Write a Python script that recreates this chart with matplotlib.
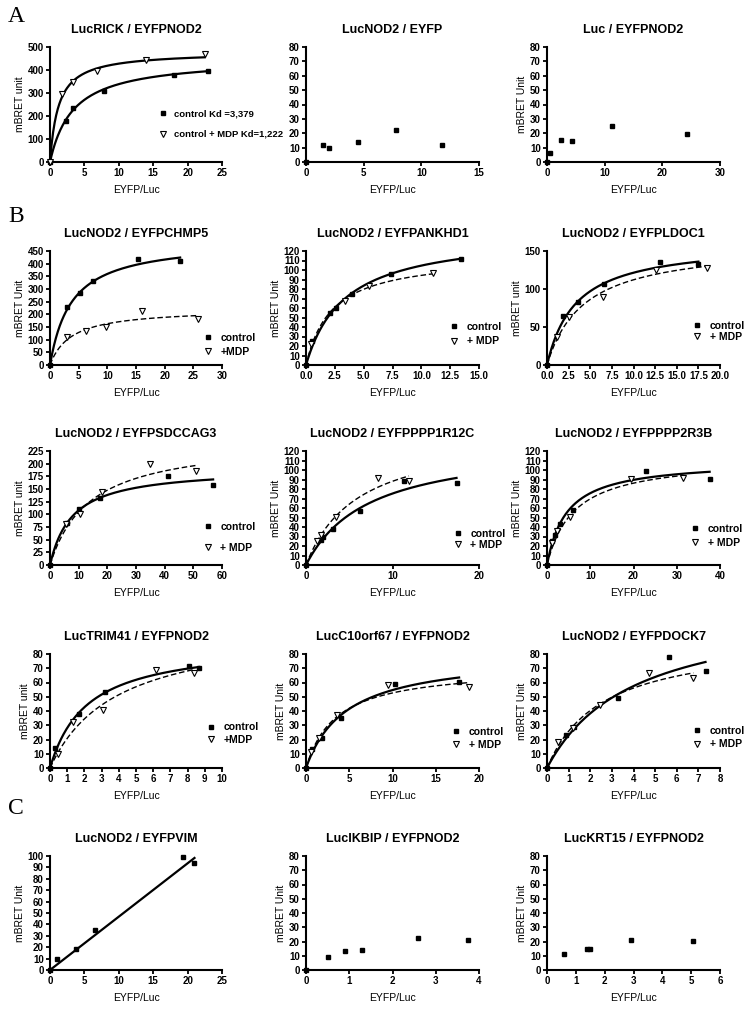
import numpy as np
import matplotlib.pyplot as plt
from matplotlib.lines import Line2D

plt.rcParams['font.family'] = ['Liberation Sans', 'DejaVu Sans']
plt.rcParams['font.weight'] = 'bold'

# ---------------- panel A ----------------
rick_ctrl_x = [0, 2.3, 3.4, 7.8, 18.0, 23.0]
rick_ctrl_y = [0, 180, 235, 310, 378, 395]
rick_mdp_x = [0, 1.7, 3.4, 6.8, 14.0, 22.5]
rick_mdp_y = [0, 295, 348, 395, 442, 468]
rick_fit = [(453, 3.379), (480, 1.222)]   # (Bmax, Kd) control, +MDP

eyfp_x = [0, 1.5, 2.0, 4.5, 7.8, 11.8]
eyfp_y = [0, 12, 10, 14, 22, 12]

luc_x = [0, 0.6, 2.4, 4.3, 11.3, 24.2]
luc_y = [0, 6, 15, 14.5, 25, 19.5]

# ---------------- panel B ----------------
chmp5_ctrl_x = [0, 3.0, 5.3, 7.5, 15.3, 22.7]
chmp5_ctrl_y = [0, 228, 285, 330, 417, 410]
chmp5_mdp_x = [3.0, 6.2, 9.8, 16.0, 25.8]
chmp5_mdp_y = [110, 135, 150, 215, 183]
chmp5_fit = [(494, 3.74), (223, 3.68)]

ankhd1_ctrl_x = [0, 0.5, 2.1, 2.6, 4.0, 7.4, 13.4]
ankhd1_ctrl_y = [0, 25, 55, 60, 75, 96, 112]
ankhd1_mdp_x = [0.4, 3.4, 5.5, 11.0]
ankhd1_mdp_y = [22, 67, 83, 97]
ankhd1_fit = [(140, 3.38), (115.6, 2.25)]

ldoc1_ctrl_x = [0, 1.9, 3.6, 6.6, 13.1, 17.5]
ldoc1_ctrl_y = [0, 64, 83, 106, 135, 133]
ldoc1_mdp_x = [1.1, 2.6, 6.5, 12.6, 18.5]
ldoc1_mdp_y = [37, 63, 90, 125, 128]
ldoc1_fit = [(162, 3.34), (160, 4.27)]

sdccag3_ctrl_x = [0, 6.1, 10.1, 17.6, 41.0, 56.9]
sdccag3_ctrl_y = [0, 83, 111, 132, 176, 158]
sdccag3_mdp_x = [5.5, 10.5, 18.2, 35.0, 51.0]
sdccag3_mdp_y = [80, 101, 145, 199, 186]
sdccag3_fit = [(192, 7.79), (250, 13.86)]

ppp1_ctrl_x = [0, 1.7, 2.0, 3.1, 6.2, 11.3, 17.4]
ppp1_ctrl_y = [0, 26, 30, 38, 57, 88, 86]
ppp1_mdp_x = [1.3, 1.7, 3.5, 8.3, 11.9]
ppp1_mdp_y = [25, 32, 51, 92, 88]
ppp1_fit = [(130, 7.28), (141, 6.0)]

ppp2_ctrl_x = [0, 1.2, 1.8, 3.0, 5.9, 23.0, 37.6]
ppp2_ctrl_y = [0, 25, 32, 43, 58, 99, 91]
ppp2_mdp_x = [1.2, 2.3, 5.3, 19.5, 31.5]
ppp2_mdp_y = [23, 36, 51, 91, 92]
ppp2_fit = [(110, 4.55), (113, 6.23)]

trim41_ctrl_x = [0, 0.3, 1.7, 3.2, 8.1, 8.65]
trim41_ctrl_y = [0, 14, 38, 53.5, 71.5, 70.5]
trim41_mdp_x = [0.45, 1.35, 3.1, 6.15, 8.35]
trim41_mdp_y = [10, 32, 41, 69, 67]
trim41_fit = [(88.5, 2.15), (101, 3.86)]

c10_ctrl_x = [0, 0.7, 1.8, 4.1, 10.3, 17.7]
c10_ctrl_y = [0, 13, 21, 35, 59, 60.5]
c10_mdp_x = [0.6, 1.5, 3.6, 9.5, 18.9]
c10_mdp_y = [11, 21, 37, 58, 57]
c10_fit = [(80.3, 4.68), (71, 3.48)]

dock7_ctrl_x = [0, 0.87, 1.25, 3.27, 5.65, 7.33]
dock7_ctrl_y = [0, 23, 29, 49, 78, 68]
dock7_mdp_x = [0.5, 1.2, 2.46, 4.7, 6.77]
dock7_mdp_y = [18, 28, 44, 67, 63.5]
dock7_fit = [(115, 4.0), (92, 2.56)]

# ---------------- panel C ----------------
vim_x = [0, 1.0, 3.8, 6.6, 19.3, 21.0]
vim_y = [0, 10, 18, 35, 99, 94]
vim_fit = (4.68, 0.0)   # slope, intercept

ikbip_x = [0, 0.5, 0.9, 1.3, 2.6, 3.75]
ikbip_y = [0, 9, 13.5, 14, 22.5, 21]

krt15_x = [0.6, 1.4, 1.5, 2.9, 5.05]
krt15_y = [11, 14.5, 15, 21, 20.5]

W, H = 745, 1027
fig = plt.figure(figsize=(W / 100, H / 100), dpi=100)

cols = [(50, 222), (306, 479), (547, 720)]
rows = [(47, 162), (251, 365), (451, 565), (654, 768), (856, 970)]

DASH = (0, (4, 2))


def make_ax(r, c):
    l, rr = cols[c]
    t, b = rows[r]
    return fig.add_axes([l / W, 1 - b / H, (rr - l) / W, (b - t) / H])


def style(ax, title, ylabel, xticks, yticks, xfmt='{:g}'):
    ax.set_xlim(xticks[0], xticks[-1])
    ax.set_ylim(yticks[0], yticks[-1])
    ax.set_xticks(xticks)
    ax.set_xticklabels([xfmt.format(t) for t in xticks])
    ax.set_yticks(yticks)
    ax.set_yticklabels(['{:g}'.format(t) for t in yticks])
    for s in ['top', 'right']:
        ax.spines[s].set_visible(False)
    for s in ['left', 'bottom']:
        ax.spines[s].set_linewidth(1.5)
    ax.tick_params(direction='out', length=3, width=1.3, labelsize=7, pad=1.5)
    ax.set_title(title, fontsize=9, fontweight='bold', pad=10)
    ax.set_xlabel('EYFP/Luc', fontsize=7.5, labelpad=5)
    if ylabel:
        ax.set_ylabel(ylabel, fontsize=7.5, labelpad=2)


def ctrl_pts(ax, x, y):
    ax.plot(x, y, ls='none', marker='s', color='k', ms=3.3, clip_on=False, zorder=4)


def mdp_pts(ax, x, y):
    ax.plot(x, y, ls='none', marker='v', mfc='white', mec='k', ms=4.5, mew=0.8,
            clip_on=False, zorder=4)


def hyper(ax, params, xmax, ls):
    bmax, kd = params
    xs = np.linspace(0, xmax, 200)
    ax.plot(xs, bmax * xs / (kd + xs), color='k', ls=ls,
            lw=1.6 if ls == '-' else 1.0, zorder=3)


def add_legend(ax, labels, x, y, spacing, fs=7.5):
    handles = [Line2D([], [], ls='none', marker='s', color='k', ms=3.3),
               Line2D([], [], ls='none', marker='v', mfc='white', mec='k', ms=4.5, mew=0.8)]
    leg = ax.legend(handles, labels, loc='upper left', bbox_to_anchor=(x, y),
                    frameon=False, fontsize=fs, handlelength=0.6, handletextpad=0.9,
                    borderpad=0, borderaxespad=0, labelspacing=spacing)
    for t in leg.get_texts():
        t.set_fontweight('bold')


def binding_panel(r, c, title, ylabel, xticks, yticks, cx, cy, mx, my, fits,
                  leg_labels, leg_pos, xfmt='{:g}', mdp_ls=DASH):
    ax = make_ax(r, c)
    style(ax, title, ylabel, xticks, yticks, xfmt)
    hyper(ax, fits[0], max(cx), '-')
    hyper(ax, fits[1], max(mx), mdp_ls)
    ctrl_pts(ax, cx, cy)
    mdp_pts(ax, mx, my)
    add_legend(ax, leg_labels, *leg_pos)
    return ax


# ---- A ----
binding_panel(0, 0, 'LucRICK / EYFPNOD2', 'mBRET unit',
              [0, 5, 10, 15, 20, 25], [0, 100, 200, 300, 400, 500],
              rick_ctrl_x, rick_ctrl_y, rick_mdp_x, rick_mdp_y, rick_fit,
              ['control Kd =3,379', 'control + MDP Kd=1,222'], (0.64, 0.46, 1.25, 6.8),
              mdp_ls='-')

ax = make_ax(0, 1)
style(ax, 'LucNOD2 / EYFP', None, [0, 5, 10, 15], list(range(0, 81, 10)))
ctrl_pts(ax, eyfp_x, eyfp_y)

ax = make_ax(0, 2)
style(ax, 'Luc / EYFPNOD2', 'mBRET Unit', [0, 10, 20, 30], list(range(0, 81, 10)))
ctrl_pts(ax, luc_x, luc_y)

# ---- B ----
binding_panel(1, 0, 'LucNOD2 / EYFPCHMP5', 'mBRET Unit',
              list(range(0, 31, 5)), list(range(0, 451, 50)),
              chmp5_ctrl_x, chmp5_ctrl_y, chmp5_mdp_x, chmp5_mdp_y, chmp5_fit,
              ['control', '+MDP'], (0.90, 0.28, 0.35))
binding_panel(1, 1, 'LucNOD2 / EYFPANKHD1', 'mBRET Unit',
              [0, 2.5, 5, 7.5, 10, 12.5, 15], list(range(0, 121, 10)),
              ankhd1_ctrl_x, ankhd1_ctrl_y, ankhd1_mdp_x, ankhd1_mdp_y, ankhd1_fit,
              ['control', '+ MDP'], (0.84, 0.38, 0.45), xfmt='{:.1f}')
binding_panel(1, 2, 'LucNOD2 / EYFPLDOC1', 'mBRET unit',
              [0, 2.5, 5, 7.5, 10, 12.5, 15, 17.5, 20], [0, 50, 100, 150],
              ldoc1_ctrl_x, ldoc1_ctrl_y, ldoc1_mdp_x, ldoc1_mdp_y, ldoc1_fit,
              ['control', '+ MDP'], (0.85, 0.39, 0.1), xfmt='{:.1f}')

binding_panel(2, 0, 'LucNOD2 / EYFPSDCCAG3', 'mBRET unit',
              list(range(0, 61, 10)), list(range(0, 226, 25)),
              sdccag3_ctrl_x, sdccag3_ctrl_y, sdccag3_mdp_x, sdccag3_mdp_y, sdccag3_fit,
              ['control', '+ MDP'], (0.90, 0.38, 1.05))
binding_panel(2, 1, 'LucNOD2 / EYFPPPP1R12C', 'mBRET Unit',
              [0, 10, 20], list(range(0, 121, 10)),
              ppp1_ctrl_x, ppp1_ctrl_y, ppp1_mdp_x, ppp1_mdp_y, ppp1_fit,
              ['control', '+ MDP'], (0.86, 0.32, 0.15))
binding_panel(2, 2, 'LucNOD2 / EYFPPPP2R3B', 'mBRET Unit',
              [0, 10, 20, 30, 40], list(range(0, 121, 10)),
              ppp2_ctrl_x, ppp2_ctrl_y, ppp2_mdp_x, ppp2_mdp_y, ppp2_fit,
              ['control', '+ MDP'], (0.84, 0.36, 0.35))

binding_panel(3, 0, 'LucTRIM41 / EYFPNOD2', 'mBRET unit',
              list(range(0, 11)), list(range(0, 81, 10)),
              trim41_ctrl_x, trim41_ctrl_y, trim41_mdp_x, trim41_mdp_y, trim41_fit,
              ['control', '+MDP'], (0.92, 0.40, 0.25))
binding_panel(3, 1, 'LucC10orf67 / EYFPNOD2', 'mBRET Unit',
              [0, 5, 10, 15, 20], list(range(0, 81, 10)),
              c10_ctrl_x, c10_ctrl_y, c10_mdp_x, c10_mdp_y, c10_fit,
              ['control', '+ MDP'], (0.85, 0.36, 0.25))
binding_panel(3, 2, 'LucNOD2 / EYFPDOCK7', 'mBRET Unit',
              list(range(0, 9)), list(range(0, 81, 10)),
              dock7_ctrl_x, dock7_ctrl_y, dock7_mdp_x, dock7_mdp_y, dock7_fit,
              ['control', '+ MDP'], (0.85, 0.37, 0.35))

# ---- C ----
ax = make_ax(4, 0)
style(ax, 'LucNOD2 / EYFPVIM', 'mBRET Unit', [0, 5, 10, 15, 20, 25], list(range(0, 101, 10)))
xs = np.linspace(0, max(vim_x), 50)
ax.plot(xs, vim_fit[0] * xs + vim_fit[1], color='k', lw=1.6, zorder=3)
ctrl_pts(ax, vim_x, vim_y)

ax = make_ax(4, 1)
style(ax, 'LucIKBIP / EYFPNOD2', 'mBRET Unit', [0, 1, 2, 3, 4], list(range(0, 81, 10)))
ctrl_pts(ax, ikbip_x, ikbip_y)

ax = make_ax(4, 2)
style(ax, 'LucKRT15 / EYFPNOD2', 'mBRET Unit', list(range(0, 7)), list(range(0, 81, 10)))
ctrl_pts(ax, krt15_x, krt15_y)

# panel letters
for letter, ypx in [('A', 17), ('B', 216), ('C', 808)]:
    fig.text(8 / W, 1 - ypx / H, letter, fontsize=17, family='Liberation Serif',
             fontweight='normal', va='center', ha='left')

fig.savefig('out.png', dpi=100)
